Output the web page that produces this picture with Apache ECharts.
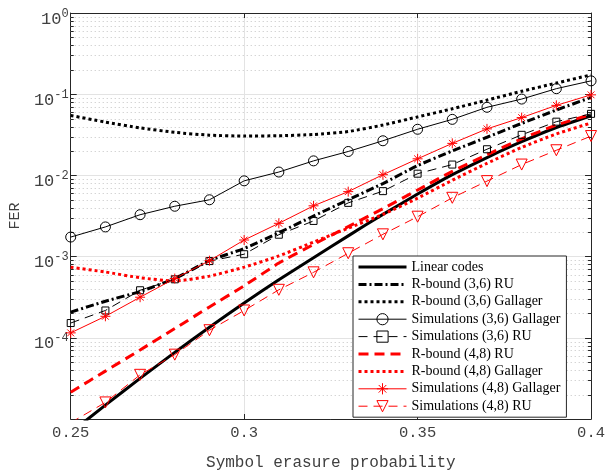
<!DOCTYPE html>
<html>
<head>
<meta charset="utf-8">
<script src="https://cdn.jsdelivr.net/npm/echarts@6/dist/echarts.min.js"></script>
<style>
  html, body { margin: 0; padding: 0; background: #fff; }
  #chart { width: 608px; height: 476px; }
</style>
</head>
<body>
<div id="chart"></div>
<script>
// Symbol erasure probability (x values shared by every curve)
const erasureProb = [0.25, 0.26, 0.27, 0.28, 0.29, 0.30, 0.31, 0.32,
                     0.33, 0.34, 0.35, 0.36, 0.37, 0.38, 0.39, 0.40];

// Frame error rates
const linearCodes      = [6.8e-6, 1.48e-5, 3.16e-5, 6.61e-5, 1.35e-4, 2.69e-4, 5.19e-4, 9.66e-4,
                          1.80e-3, 3.31e-3, 5.89e-3, 1.02e-2, 1.66e-2, 2.60e-2, 3.89e-2, 5.43e-2];
const rBound36RU       = [2.07e-4, 2.82e-4, 3.72e-4, 5.37e-4, 8.91e-4, 1.26e-3, 1.97e-3, 3.16e-3,
                          5.01e-3, 7.94e-3, 1.32e-2, 2.00e-2, 2.95e-2, 4.37e-2, 6.38e-2, 9.12e-2];
const rBound36Gallager = [5.47e-2, 4.54e-2, 3.85e-2, 3.39e-2, 3.13e-2, 3.05e-2, 3.08e-2, 3.19e-2,
                          3.47e-2, 4.17e-2, 5.25e-2, 6.61e-2, 8.45e-2, 0.1086, 0.1371, 0.1730];
const sim36Gallager    = [1.74e-3, 2.32e-3, 3.28e-3, 4.17e-3, 5.01e-3, 8.57e-3, 1.10e-2, 1.51e-2,
                          1.97e-2, 2.67e-2, 3.70e-2, 4.90e-2, 6.90e-2, 8.71e-2, 0.117, 0.146];
const sim36RU          = [1.52e-4, 2.17e-4, 3.85e-4, 5.25e-4, 8.81e-4, 1.07e-3, 1.86e-3, 2.75e-3,
                          4.59e-3, 6.40e-3, 1.05e-2, 1.36e-2, 2.10e-2, 3.16e-2, 4.59e-2, 5.73e-2];
const rBound48RU       = [2.14e-5, 3.89e-5, 7.08e-5, 1.30e-4, 2.40e-4, 4.37e-4, 8.32e-4, 1.41e-3,
                          2.34e-3, 3.89e-3, 6.61e-3, 1.12e-2, 1.80e-2, 2.82e-2, 4.17e-2, 5.62e-2];
const rBound48Gallager = [7.41e-4, 6.46e-4, 5.50e-4, 5.01e-4, 5.75e-4, 7.41e-4, 1.02e-3, 1.51e-3,
                          2.24e-3, 3.31e-3, 5.25e-3, 8.71e-3, 1.41e-2, 2.21e-2, 3.24e-2, 4.42e-2];
const sim48Gallager    = [1.15e-4, 1.84e-4, 3.16e-4, 5.37e-4, 8.91e-4, 1.60e-3, 2.57e-3, 4.22e-3,
                          6.31e-3, 1.02e-2, 1.60e-2, 2.48e-2, 3.74e-2, 5.15e-2, 7.29e-2, 9.82e-2];
const sim48RU          = [9.0e-6, 1.6e-5, 3.5e-5, 6.2e-5, 1.24e-4, 2.17e-4, 3.9e-4, 6.4e-4,
                          1.10e-3, 1.88e-3, 3.10e-3, 5.30e-3, 8.50e-3, 1.36e-2, 2.04e-2, 3.05e-2];

// Axis ranges and labels
const X_MIN = 0.25, X_MAX = 0.40, X_STEP = 0.05;
const Y_MIN = 1e-5, Y_MAX = 1;
const xTitle = 'Symbol erasure probability';
const yTitle = 'FER';

const MONO = "'Liberation Mono', 'DejaVu Sans Mono', monospace";
const SERIF = "'Liberation Serif', 'DejaVu Serif', serif";
const AXIS_COLOR = '#262626';
const TEXT_COLOR = '#404040';
const RED = '#ff0000';
const BLACK = '#000000';

const ASTERISK = 'path://M5 0L5 10M0 5L10 5M1.6 1.6L8.4 8.4M8.4 1.6L1.6 8.4';
const TRI_DOWN = 'path://M0 0L10 0L5 9Z';

// Minor log gridlines: 2..9 within each decade
const minorValues = [];
for (let e = Math.log10(Y_MIN); e < Math.log10(Y_MAX); e++) {
  for (let m = 2; m <= 9; m++) minorValues.push(m * Math.pow(10, e));
}

const pairs = ys => erasureProb.map((x, i) => [x, ys[i]]);

function boundSeries(name, ys, color, dash) {
  return {
    name, type: 'line', data: pairs(ys), symbol: 'none', smooth: 0.2,
    z: 3, clip: true,
    lineStyle: { color, width: 3, type: dash, cap: 'butt' },
    itemStyle: { color }
  };
}
function simSeries(name, ys, color, dash, symbol, size) {
  return {
    name, type: 'line', data: pairs(ys), symbol, symbolSize: size,
    showSymbol: true, z: 4, clip: true,
    lineStyle: { color, width: 1, type: dash },
    itemStyle: { color: 'rgba(0,0,0,0)', borderColor: color, borderWidth: 1 }
  };
}

const series = [
  boundSeries('Linear codes', linearCodes, BLACK, 'solid'),
  boundSeries('R-bound (3,6) RU', rBound36RU, BLACK, [8, 3, 2, 3]),
  boundSeries('R-bound (3,6) Gallager', rBound36Gallager, BLACK, [3, 3]),
  simSeries('Simulations (3,6) Gallager', sim36Gallager, BLACK, 'solid', 'circle', 10),
  simSeries('Simulations (3,6) RU', sim36RU, BLACK, [9, 6], 'rect', 7),
  boundSeries('R-bound (4,8) RU', rBound48RU, RED, [10, 6]),
  boundSeries('R-bound (4,8) Gallager', rBound48Gallager, RED, [3, 3]),
  simSeries('Simulations (4,8) Gallager', sim48Gallager, RED, 'solid', ASTERISK, 10),
  simSeries('Simulations (4,8) RU', sim48RU, RED, [9, 6], TRI_DOWN, 11),
  {
    // dotted minor gridlines with inward minor ticks on both y axes
    name: 'minor-grid', type: 'custom', z: 1, silent: true,
    data: minorValues.map(v => [X_MIN, v]),
    renderItem: (params, api) => {
      const v = api.value(1);
      const a = api.coord([X_MIN, v]);
      const b = api.coord([X_MAX, v]);
      const y = Math.round(a[1]) + 0.5;
      return {
        type: 'group',
        children: [
          { type: 'line', shape: { x1: a[0], y1: y, x2: b[0], y2: y },
            style: { stroke: '#c4c4c4', lineWidth: 1, lineDash: [1, 3] } },
          { type: 'line', shape: { x1: a[0], y1: y, x2: a[0] + 3, y2: y },
            style: { stroke: AXIS_COLOR, lineWidth: 1 } },
          { type: 'line', shape: { x1: b[0] - 3, y1: y, x2: b[0], y2: y },
            style: { stroke: AXIS_COLOR, lineWidth: 1 } }
        ]
      };
    }
  }
];

// Legend entries: bounds show only their line, simulations show line + marker
const legendData = series.filter(s => s.type === 'line').map(s =>
  s.symbol === 'none'
    ? { name: s.name, itemStyle: { opacity: 0 }, lineStyle: { width: 3 } }
    : { name: s.name, lineStyle: { width: 1 } });

const chart = echarts.init(document.getElementById('chart'), null, { renderer: 'canvas' });
chart.setOption({
  animation: false,
  backgroundColor: '#ffffff',
  grid: { left: 68, top: 13, width: 524, height: 413, containLabel: false },
  legend: {
    data: legendData,
    orient: 'vertical',
    left: 353, top: 256,
    padding: [4, 6, 4, 4],
    itemWidth: 48, itemHeight: 14, itemGap: 3.4,
    backgroundColor: '#ffffff',
    borderColor: AXIS_COLOR, borderWidth: 1,
    itemStyle: { borderWidth: 1 },
    textStyle: { fontFamily: SERIF, fontSize: 14, color: '#000' },
    selectedMode: false
  },
  xAxis: [
    {
      type: 'value', min: X_MIN, max: X_MAX, interval: X_STEP, position: 'bottom',
      name: xTitle, nameLocation: 'middle', nameGap: 36,
      nameTextStyle: { fontFamily: MONO, fontSize: 16, color: TEXT_COLOR },
      axisLine: { lineStyle: { color: AXIS_COLOR, width: 1 } },
      axisTick: { inside: true, length: 5, lineStyle: { color: AXIS_COLOR } },
      axisLabel: { fontFamily: MONO, fontSize: 15.5, color: TEXT_COLOR, margin: 6 },
      splitLine: { show: true, lineStyle: { color: '#e3e3e3', width: 1 } }
    },
    {
      type: 'value', min: X_MIN, max: X_MAX, interval: X_STEP, position: 'top',
      axisLine: { lineStyle: { color: AXIS_COLOR, width: 1 } },
      axisTick: { inside: true, length: 5, lineStyle: { color: AXIS_COLOR } },
      axisLabel: { show: false }, splitLine: { show: false }
    }
  ],
  yAxis: [
    {
      type: 'log', logBase: 10, min: Y_MIN, max: Y_MAX, position: 'left',
      name: yTitle, nameLocation: 'middle', nameGap: 34, nameRotate: 90,
      nameTextStyle: { fontFamily: MONO, fontSize: 15, color: TEXT_COLOR },
      axisLine: { lineStyle: { color: AXIS_COLOR, width: 1 } },
      axisTick: { inside: true, length: 6, lineStyle: { color: AXIS_COLOR } },
      splitLine: { show: true, lineStyle: { color: '#e3e3e3', width: 1 } },
      axisLabel: {
        showMinLabel: false, margin: 2, padding: [9, 0, 0, 0],
        formatter: v => '{b|10}{s|' + Math.round(Math.log10(v)) + '}',
        rich: {
          b: { fontFamily: MONO, fontSize: 17, color: TEXT_COLOR, verticalAlign: 'bottom' },
          s: { fontFamily: MONO, fontSize: 12, color: TEXT_COLOR, verticalAlign: 'bottom',
               padding: [0, 0, 8, 0] }
        }
      }
    },
    {
      type: 'log', logBase: 10, min: Y_MIN, max: Y_MAX, position: 'right',
      axisLine: { lineStyle: { color: AXIS_COLOR, width: 1 } },
      axisTick: { inside: true, length: 6, lineStyle: { color: AXIS_COLOR } },
      axisLabel: { show: false }, splitLine: { show: false }
    }
  ],
  series
});
</script>
</body>
</html>
